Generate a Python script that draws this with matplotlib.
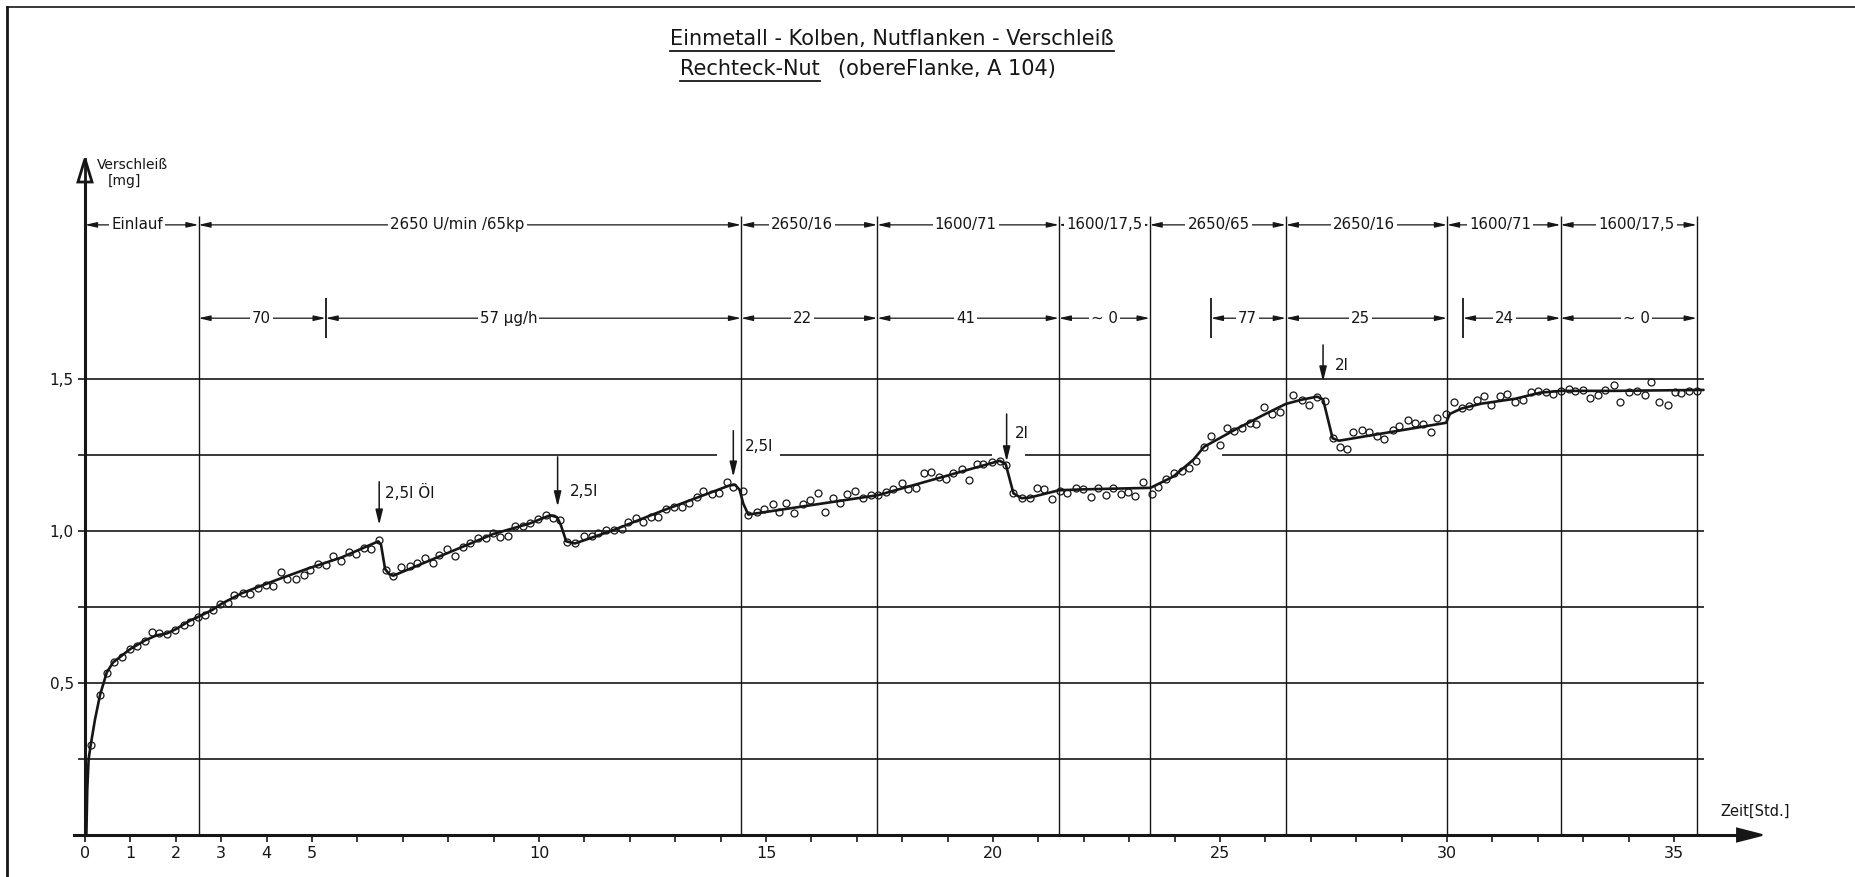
import matplotlib
matplotlib.use("Agg")
import matplotlib.pyplot as plt
from matplotlib.lines import Line2D
from matplotlib.patches import Polygon

# ---------------- data ----------------
# smoothed wear curve: time [h] / wear [mg]
curve_t = [0.03, 0.05, 0.08, 0.13, 0.22, 0.33, 0.48, 0.62, 0.81, 1.0, 1.32, 1.58, 1.8, 2.0,
           2.31, 2.5, 2.8, 3.0, 3.45, 4.2, 4.9, 5.65, 6.46, 6.52, 6.61, 6.7, 6.79, 8.99,
           9.8, 10.25, 10.4, 10.48, 10.6, 10.79, 11.64, 12.74, 14.2, 14.32, 14.42, 14.5,
           14.61, 17.47, 20.15, 20.28, 20.45, 20.63, 20.81, 21.45, 22.0, 23.47, 23.97,
           24.41, 24.65, 25.29, 25.96, 26.45, 26.8, 27.14, 27.27, 27.48, 27.62, 29.98,
           30.06, 30.32, 30.76, 31.5, 32.05, 32.51, 33.67, 35.65]
curve_w = [0.0, 0.15, 0.25, 0.30, 0.38, 0.46, 0.535, 0.568, 0.59, 0.612, 0.64, 0.657, 0.663,
           0.677, 0.705, 0.718, 0.74, 0.76, 0.795, 0.838, 0.876, 0.913, 0.966, 0.955, 0.875,
           0.858, 0.853, 0.99, 1.025, 1.052, 1.045, 1.02, 0.966, 0.959, 1.003, 1.068, 1.15,
           1.152, 1.135, 1.09, 1.054, 1.118, 1.231, 1.22, 1.124, 1.108, 1.11, 1.134, 1.137,
           1.142, 1.179, 1.234, 1.277, 1.33, 1.382, 1.418, 1.432, 1.442, 1.433, 1.305,
           1.297, 1.356, 1.385, 1.403, 1.419, 1.435, 1.455, 1.461, 1.461, 1.464]

# individual measurements
meas_t = [0.13, 0.33, 0.48, 0.64, 0.81, 0.99, 1.14, 1.32, 1.47, 1.62, 1.80, 1.98, 2.17, 2.31,
          2.48, 2.64, 2.81, 2.98, 3.14, 3.29, 3.47, 3.63, 3.82, 3.98, 4.15, 4.32, 4.46, 4.64,
          4.82, 4.96, 5.14, 5.30,
          5.47, 5.63, 5.82, 5.97, 6.15, 6.31, 6.48, 6.63, 6.79, 6.97, 7.16, 7.32, 7.49, 7.66,
          7.80, 7.98, 8.15, 8.32, 8.48, 8.65, 8.83, 8.99, 9.14, 9.31, 9.47, 9.64, 9.80, 9.98,
          10.15, 10.30, 10.46, 10.62, 10.79, 10.99, 11.16, 11.31, 11.48, 11.65, 11.82, 11.97,
          12.14, 12.30, 12.46, 12.63, 12.80, 12.97, 13.14, 13.31, 13.47,
          13.62, 13.80, 13.96, 14.15, 14.28, 14.49, 14.61, 14.80, 14.96, 15.15, 15.29, 15.45,
          15.62, 15.81, 15.97, 16.14, 16.31, 16.47, 16.63, 16.79, 16.96, 17.13, 17.31, 17.47,
          17.64, 17.80, 17.99, 18.13, 18.30, 18.48, 18.63, 18.80, 18.96, 19.12, 19.31, 19.48,
          19.64,
          19.77, 19.97, 20.15, 20.29, 20.45, 20.63, 20.81, 20.98, 21.13, 21.31, 21.48, 21.64,
          21.82, 21.99, 22.16, 22.32, 22.49, 22.65, 22.82, 22.98, 23.13, 23.31, 23.51, 23.63,
          23.80, 23.99, 24.16, 24.32, 24.47, 24.65, 24.81, 24.99, 25.15, 25.31, 25.48, 25.65,
          25.79, 25.97, 26.14,
          26.32, 26.61, 26.80, 26.97, 27.13, 27.31, 27.48, 27.64, 27.79, 27.94, 28.12, 28.29,
          28.45, 28.62, 28.82, 28.95, 29.13, 29.30, 29.48, 29.64, 29.79, 29.97, 30.16, 30.32,
          30.49, 30.65, 30.82, 30.97, 31.16, 31.32, 31.50, 31.67, 31.84, 32.00, 32.17, 32.33,
          32.51, 32.68, 32.83, 33.00, 33.16, 33.32, 33.48, 33.67, 33.81, 34.01, 34.19, 34.36,
          34.49, 34.67, 34.86, 35.02, 35.16, 35.33, 35.51]
meas_w = [0.296, 0.461, 0.534, 0.569, 0.587, 0.611, 0.622, 0.638, 0.669, 0.663, 0.660, 0.674,
          0.691, 0.702, 0.716, 0.724, 0.740, 0.759, 0.764, 0.789, 0.797, 0.792, 0.811, 0.822,
          0.819, 0.865, 0.841, 0.843, 0.854, 0.872, 0.891, 0.888,
          0.918, 0.901, 0.932, 0.924, 0.943, 0.940, 0.970, 0.873, 0.853, 0.883, 0.885, 0.894,
          0.910, 0.894, 0.921, 0.940, 0.918, 0.948, 0.959, 0.976, 0.976, 0.992, 0.981, 0.983,
          1.017, 1.017, 1.025, 1.038, 1.053, 1.042, 1.036, 0.965, 0.959, 0.985, 0.982, 0.994,
          1.003, 1.003, 1.006, 1.031, 1.042, 1.031, 1.045, 1.045, 1.072, 1.078, 1.078, 1.091,
          1.113,
          1.133, 1.122, 1.126, 1.160, 1.144, 1.130, 1.053, 1.061, 1.071, 1.088, 1.061, 1.091,
          1.060, 1.090, 1.102, 1.124, 1.064, 1.110, 1.091, 1.121, 1.132, 1.110, 1.118, 1.118,
          1.129, 1.138, 1.157, 1.138, 1.143, 1.190, 1.195, 1.179, 1.171, 1.190, 1.204, 1.168,
          1.220,
          1.222, 1.228, 1.231, 1.217, 1.124, 1.108, 1.110, 1.140, 1.137, 1.104, 1.132, 1.124,
          1.142, 1.137, 1.113, 1.143, 1.120, 1.143, 1.122, 1.127, 1.115, 1.162, 1.122, 1.146,
          1.170, 1.190, 1.196, 1.207, 1.231, 1.277, 1.312, 1.283, 1.338, 1.330, 1.338, 1.356,
          1.352, 1.409, 1.385,
          1.393, 1.447, 1.431, 1.414, 1.442, 1.429, 1.306, 1.277, 1.270, 1.325, 1.332, 1.326,
          1.313, 1.302, 1.332, 1.346, 1.365, 1.354, 1.351, 1.326, 1.373, 1.385, 1.423, 1.406,
          1.412, 1.431, 1.444, 1.413, 1.444, 1.451, 1.425, 1.431, 1.458, 1.460, 1.456, 1.451,
          1.461, 1.466, 1.461, 1.463, 1.436, 1.448, 1.465, 1.480, 1.425, 1.456, 1.460, 1.447,
          1.491, 1.423, 1.414, 1.456, 1.454, 1.460, 1.461]

# operating phases (speed / load)
phase_edges = [0.0, 2.5, 14.45, 17.45, 21.45, 23.45, 26.45, 30.0, 32.5, 35.5]
phase_labels = ["Einlauf", "2650 U/min /65kp", "2650/16", "1600/71", "1600/17,5",
                "2650/65", "2650/16", "1600/71", "1600/17,5"]

# wear rates per interval
rate_spans = [(2.5, 5.3), (5.3, 14.45), (14.45, 17.45), (17.45, 21.45), (21.45, 23.45),
              (24.8, 26.45), (26.45, 30.0), (30.35, 32.5), (32.5, 35.5)]
rate_labels = ["70", "57 µg/h", "22", "41", "~ 0", "77", "25", "24", "~ 0"]

# oil refills
oil_t = [6.48, 10.41, 14.28, 20.3, 27.27]
oil_labels = ["2,5l Öl", "2,5l", "2,5l", "2l", "2l"]

x_ticks = list(range(36))
x_tick_labels = ["0", "1", "2", "3", "4", "5", "10", "15", "20", "25", "30", "35"]
y_ticks = [0.5, 1.0, 1.5]
y_tick_labels = ["0,5", "1,0", "1,5"]

# ---------------- layout ----------------
INK = "#161616"
W, H = 1855, 877
X0_PX, X_SCALE = 85, 45.4
Y0_PX, Y_SCALE = 835, 304

plt.rcParams["font.family"] = ["DejaVu Sans"]

fig = plt.figure(figsize=(W / 100, H / 100), dpi=100)
fig.patch.set_facecolor("white")
ax = fig.add_axes([0, 0, 1, 1])
ax.set_xlim(-X0_PX / X_SCALE, (W - X0_PX) / X_SCALE)
ax.set_ylim((Y0_PX - H) / Y_SCALE, Y0_PX / Y_SCALE)
ax.patch.set_alpha(0)

# axes through the origin
for s in ("top", "right"):
    ax.spines[s].set_visible(False)
ax.spines["left"].set_position(("data", 0))
ax.spines["bottom"].set_position(("data", 0))
ax.spines["left"].set_bounds(0, 2.2)
ax.spines["bottom"].set_bounds(-0.25, 36.5)
for s in ("left", "bottom"):
    ax.spines[s].set_linewidth(2.2)
    ax.spines[s].set_color(INK)

ax.add_patch(Polygon([(-0.155, 2.148), (0, 2.224), (0.155, 2.148)], closed=True,
                     fc="white", ec=INK, lw=2.0, zorder=6))
ax.add_patch(Polygon([(36.39, 0.021), (36.94, 0.0), (36.39, -0.021)], closed=True,
                     fc=INK, ec=INK, lw=1.5, zorder=6))
ax.plot([0, 0], [2.148, 2.224], color=INK, lw=2.0, zorder=7)

ax.set_xticks(x_ticks)
ax.set_xticklabels([str(t) if str(t) in x_tick_labels else "" for t in x_ticks])
ax.tick_params(axis="x", direction="out", length=5, width=1.2, color=INK, pad=3,
               labelsize=11.5, labelcolor=INK)
ax.set_yticks(y_ticks)
ax.set_yticklabels(y_tick_labels)
ax.tick_params(axis="y", length=0, pad=8, labelsize=11, labelcolor=INK)

# horizontal grid
ax.hlines([0.25, 0.5, 0.75, 1.0, 1.5], -0.15, 35.65, color=INK, lw=1.2, zorder=1)
for a, b in [(-0.15, 13.92), (15.31, 19.98), (20.70, 23.46), (25.04, 35.65)]:
    ax.hlines(1.25, a, b, color=INK, lw=1.2, zorder=1)

# phase boundaries
ax.vlines(phase_edges[1:], 0, 2.035, color=INK, lw=1.0, zorder=1)

ROW1, ROW2 = 2.007, 1.70
arrow_dim = dict(arrowstyle="<|-|>,head_length=0.7,head_width=0.16", lw=0.9,
                 color=INK, mutation_scale=10, shrinkA=0, shrinkB=0)
phase_label_x = [1.15, 8.2, 15.8, 19.4, 22.46, 24.97, 28.17, 31.17, 34.17]
for (a, b), lab, lx in zip(zip(phase_edges[:-1], phase_edges[1:]), phase_labels, phase_label_x):
    ax.annotate("", xy=(a, ROW1), xytext=(b, ROW1), arrowprops=arrow_dim, zorder=2)
    ax.text(lx, ROW1, lab, ha="center", va="center", fontsize=10.8, color=INK, zorder=3,
            bbox=dict(fc="white", ec="none", pad=1.5))

rate_label_x = [3.88, 9.33, 15.8, 19.4, 22.46, 25.6, 28.1, 31.27, 34.17]
for (a, b), lab, lx in zip(rate_spans, rate_labels, rate_label_x):
    ax.annotate("", xy=(a, ROW2), xytext=(b, ROW2), arrowprops=arrow_dim, zorder=2)
    ax.text(lx, ROW2, lab, ha="center", va="center", fontsize=10.8, color=INK, zorder=3,
            bbox=dict(fc="white", ec="none", pad=1.5))
ax.vlines([5.3, 24.8, 30.35], ROW2 - 0.065, ROW2 + 0.065, color=INK, lw=1.3, zorder=2)

# oil refills
oil_top = [1.162, 1.244, 1.33, 1.385, 1.612]
oil_tip = [1.02, 1.08, 1.178, 1.228, 1.491]
oil_label_pos = [(6.61, 1.128), (10.68, 1.13), (14.54, 1.277), (20.48, 1.321), (27.53, 1.546)]
for t, top, tip, lab, (lx, ly) in zip(oil_t, oil_top, oil_tip, oil_labels, oil_label_pos):
    ax.annotate("", xy=(t, tip), xytext=(t, top),
                arrowprops=dict(arrowstyle="-|>,head_length=0.9,head_width=0.22", lw=1.1,
                                color=INK, mutation_scale=10, shrinkA=0, shrinkB=0))
    ax.text(lx, ly, lab, ha="left", va="center", fontsize=11, color=INK)

# wear curve and measurements
ax.plot(curve_t, curve_w, color=INK, lw=1.9, solid_joinstyle="round",
        solid_capstyle="round", zorder=4)
ax.plot(meas_t, meas_w, "o", ms=5, mfc="none", mec=INK, mew=0.9, ls="none", zorder=5)

# axis titles
ax.text(0.26, 2.204, "Verschleiß", ha="left", va="center", fontsize=10, color=INK)
ax.text(0.51, 2.151, "[mg]", ha="left", va="center", fontsize=10, color=INK)
ax.text(36.03, 0.079, "Zeit[Std.]", ha="left", va="center", fontsize=10.5, color=INK)

# heading with underlines
t1 = fig.text(670 / W, 1 - 39 / H, "Einmetall - Kolben, Nutflanken - Verschleiß",
              ha="left", va="center", fontsize=15, color=INK)
t2 = fig.text(680 / W, 1 - 69 / H, "Rechteck-Nut", ha="left", va="center",
              fontsize=15, color=INK)
t3 = fig.text(838 / W, 1 - 69 / H, "(obereFlanke, A 104)", ha="left", va="center",
              fontsize=15, color=INK)
fig.canvas.draw()
renderer = fig.canvas.get_renderer()
for txt, ypx in [(t1, 51), (t2, 81)]:
    bb = txt.get_window_extent(renderer)
    fig.add_artist(Line2D([bb.x0 / W, bb.x1 / W], [1 - ypx / H, 1 - ypx / H],
                          transform=fig.transFigure, color=INK, lw=1.3))

# drawing frame (left and top edge)
fig.add_artist(Line2D([7 / W, 7 / W], [0, 1 - 7 / H], transform=fig.transFigure,
                      color=INK, lw=2.0))
fig.add_artist(Line2D([7 / W, 1], [1 - 7 / H, 1 - 7 / H], transform=fig.transFigure,
                      color=INK, lw=1.2))

fig.savefig("out.png", dpi=100, facecolor="white")
